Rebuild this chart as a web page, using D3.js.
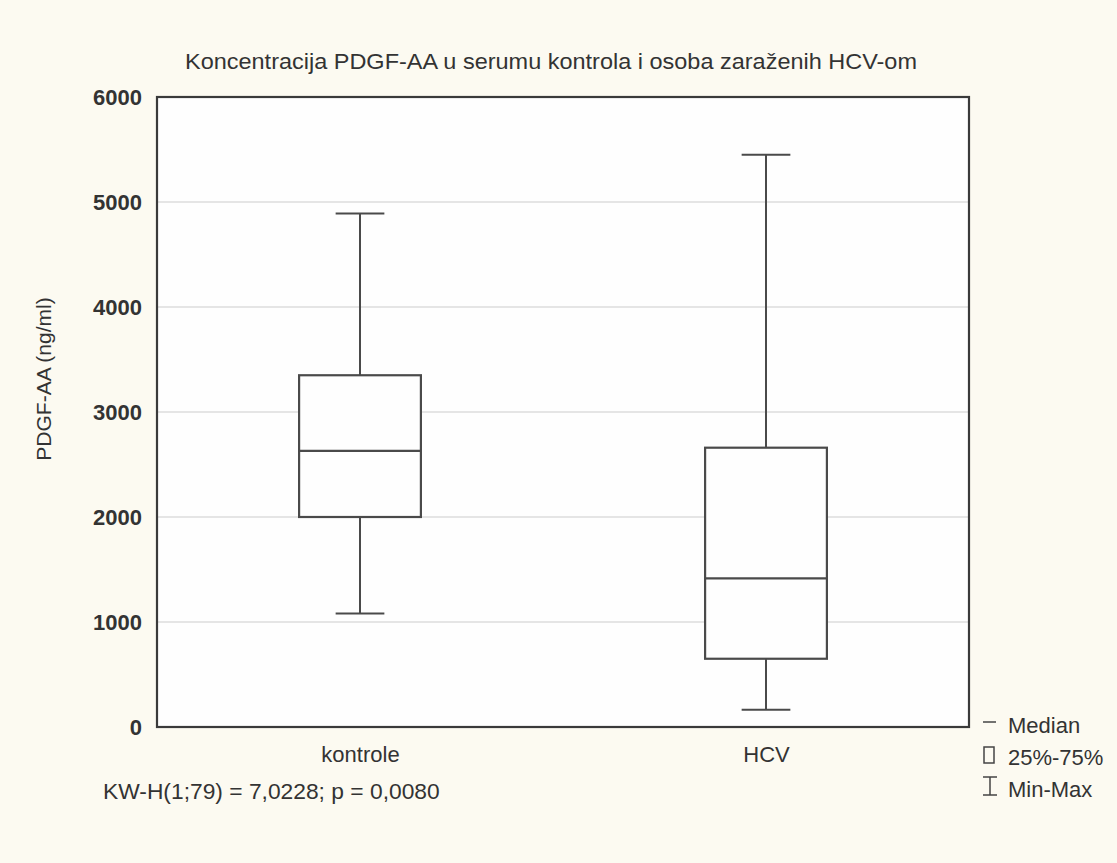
<!DOCTYPE html>
<html>
<head>
<meta charset="utf-8">
<script src="https://cdn.jsdelivr.net/npm/d3@7.9.0/dist/d3.min.js"></script>
<style>
  body { margin: 0; background: #fcfaf1; }
  text { font-family: "Liberation Sans", Arial, sans-serif; fill: #333; }
</style>
</head>
<body>
<div id="vis"></div>
<script>
const width = 1117, height = 863;

// box plot values (ng/ml)
const groups = ["kontrole", "HCV"];
const minVals = [1080, 165];
const q1Vals = [2000, 650];
const medians = [2630, 1415];
const q3Vals = [3350, 2660];
const maxVals = [4890, 5450];
const yTicks = [0, 1000, 2000, 3000, 4000, 5000, 6000];
const legendItems = ["Median", "25%-75%", "Min-Max"];

const margin = {top: 97, right: 148, bottom: 136, left: 157};
const font = "\"Liberation Sans\", Arial, sans-serif";

const svg = d3.select("#vis").append("svg")
    .attr("width", width)
    .attr("height", height)
    .attr("viewBox", `0 0 ${width} ${height}`);

const x = d3.scalePoint()
    .domain(groups)
    .range([margin.left, width - margin.right])
    .padding(0.5);
const boxW = x.step() * 0.3;

const y = d3.scaleLinear()
    .domain([0, 6000])
    .range([height - margin.bottom, margin.top]);

// plot area
svg.append("rect")
    .attr("x", margin.left)
    .attr("y", margin.top)
    .attr("width", width - margin.left - margin.right)
    .attr("height", height - margin.top - margin.bottom)
    .attr("fill", "#fefefe");

// grid
svg.append("g")
  .selectAll("line")
  .data(yTicks.slice(1, -1))
  .enter().append("line")
    .attr("x1", margin.left)
    .attr("x2", width - margin.right)
    .attr("y1", d => y(d))
    .attr("y2", d => y(d))
    .attr("stroke", "#dcdcdc")
    .attr("stroke-width", 1.5);

const yAxis = svg.append("g")
    .attr("transform", `translate(${margin.left},0)`)
    .call(d3.axisLeft(y).tickValues(yTicks).tickFormat(d3.format("d")).tickSize(0).tickPadding(15));
yAxis.select(".domain").remove();
yAxis.selectAll("text")
    .attr("font-size", 22)
    .attr("font-weight", "bold")
    .attr("fill", "#444")
    .style("font-family", font);

const xAxis = svg.append("g")
    .attr("transform", `translate(0,${height - margin.bottom})`)
    .call(d3.axisBottom(x).tickSize(0).tickPadding(19));
xAxis.select(".domain").remove();
xAxis.selectAll("text")
    .attr("font-size", 22)
    .attr("fill", "#333")
    .style("font-family", font);

// boxes
const stroke = "#4a4a4a";
const boxes = svg.append("g").selectAll("g")
  .data(groups)
  .enter().append("g");

boxes.append("line")
    .attr("x1", d => x(d))
    .attr("x2", d => x(d))
    .attr("y1", (d, i) => y(maxVals[i]))
    .attr("y2", (d, i) => y(minVals[i]))
    .attr("stroke", stroke).attr("stroke-width", 2);

boxes.append("rect")
    .attr("x", d => x(d) - boxW / 2)
    .attr("width", boxW)
    .attr("y", (d, i) => y(q3Vals[i]))
    .attr("height", (d, i) => y(q1Vals[i]) - y(q3Vals[i]))
    .attr("fill", "#fefefe")
    .attr("stroke", stroke).attr("stroke-width", 2.2);

boxes.append("line")
    .attr("x1", d => x(d) - boxW / 2)
    .attr("x2", d => x(d) + boxW / 2)
    .attr("y1", (d, i) => y(medians[i]))
    .attr("y2", (d, i) => y(medians[i]))
    .attr("stroke", stroke).attr("stroke-width", 2.2);

[maxVals, minVals].forEach(vals => {
  boxes.append("line")
    .attr("x1", d => x(d) - boxW * 0.2)
    .attr("x2", d => x(d) + boxW * 0.2)
    .attr("y1", (d, i) => y(vals[i]))
    .attr("y2", (d, i) => y(vals[i]))
    .attr("stroke", stroke).attr("stroke-width", 2);
});

// frame
svg.append("rect")
    .attr("x", margin.left)
    .attr("y", margin.top)
    .attr("width", width - margin.left - margin.right)
    .attr("height", height - margin.top - margin.bottom)
    .attr("fill", "none")
    .attr("stroke", "#3a3a3a")
    .attr("stroke-width", 2.2);

// titles
svg.append("text")
    .attr("x", 551)
    .attr("y", 69)
    .attr("text-anchor", "middle")
    .attr("font-size", 22.5)
    .attr("textLength", 732)
    .attr("lengthAdjust", "spacingAndGlyphs")
    .text("Koncentracija PDGF-AA u serumu kontrola i osoba zaraženih HCV-om");

svg.append("text")
    .attr("transform", "translate(51,379) rotate(-90)")
    .attr("text-anchor", "middle")
    .attr("font-size", 21)
    .text("PDGF-AA (ng/ml)");

svg.append("text")
    .attr("x", 103)
    .attr("y", 799)
    .attr("font-size", 22.8)
    .text("KW-H(1;79) = 7,0228; p = 0,0080");

// legend
const lx = 983, ly = 733, step = 32;
const legend = svg.append("g");
legend.selectAll("text")
  .data(legendItems)
  .enter().append("text")
    .attr("x", lx + 25)
    .attr("y", (d, i) => ly + i * step)
    .attr("font-size", 22)
    .text(d => d);

legend.append("line")
    .attr("x1", lx).attr("x2", lx + 13)
    .attr("y1", ly - 11).attr("y2", ly - 11)
    .attr("stroke", "#444").attr("stroke-width", 1.5);
legend.append("rect")
    .attr("x", lx + 1).attr("y", ly + step - 18)
    .attr("width", 10).attr("height", 16)
    .attr("fill", "none")
    .attr("stroke", "#444").attr("stroke-width", 1.5);
const iy = ly + 2 * step;
legend.append("path")
    .attr("d", `M${lx},${iy - 20}h14M${lx + 7},${iy - 20}v18M${lx},${iy - 2}h14`)
    .attr("fill", "none")
    .attr("stroke", "#444").attr("stroke-width", 1.5);
</script>
</body>
</html>
